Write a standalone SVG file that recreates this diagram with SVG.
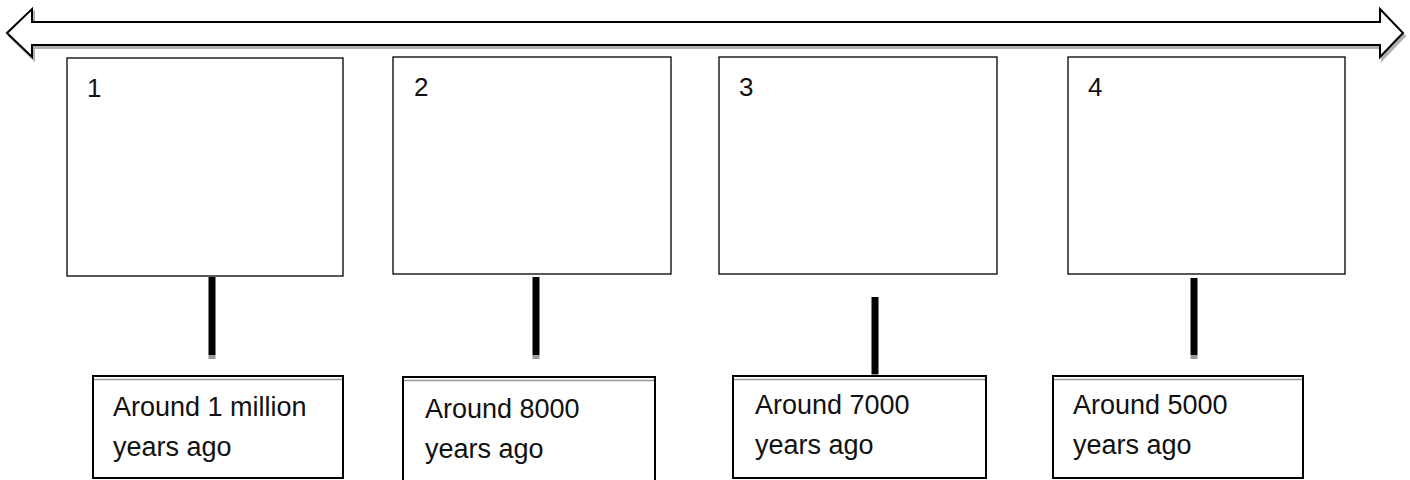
<svg xmlns="http://www.w3.org/2000/svg" width="1410" height="480" viewBox="0 0 1410 480">
<style>
.box{fill:#fff;stroke:#000;stroke-width:1.3}
.lbl{fill:#fff;stroke:#000;stroke-width:2}
.inner{stroke:#999;stroke-width:1.5}
.num,.txt{font-family:"Liberation Sans",Arial,sans-serif;fill:#111}
.num{font-size:26px}
.txt{font-size:27px}
.stem{stroke:#000;stroke-width:7}
.tail{stroke:#999;stroke-width:7}
</style>
<rect width="1410" height="480" fill="#fff"/>
<g id="timeline">
<polygon points="9,36 34,12 34,25 1382,25 1382,12 1405,36 1382,60 1382,48 34,48 34,60" fill="#b0b0b0" stroke="#b0b0b0" stroke-width="2"/>
<polygon points="7,33 32,9 32,22 1380,22 1380,9 1403,33 1380,57 1380,45 32,45 32,57" fill="#fff" stroke="#000" stroke-width="2"/>
</g>
<g id="node1">
<rect class="box" x="67" y="58" width="276" height="218"/>
<text class="num" x="87" y="97">1</text>
</g>
<g id="node2">
<rect class="box" x="393" y="57" width="278" height="217"/>
<text class="num" x="414" y="96">2</text>
</g>
<g id="node3">
<rect class="box" x="719" y="57" width="278" height="217"/>
<text class="num" x="739" y="96">3</text>
</g>
<g id="node4">
<rect class="box" x="1068" y="57" width="277" height="217"/>
<text class="num" x="1088" y="96">4</text>
</g>
<g id="connectors">
<line class="stem" x1="212" y1="277" x2="212" y2="355"/>
<line class="tail" x1="212" y1="355" x2="212" y2="359"/>
<line class="stem" x1="536" y1="277" x2="536" y2="355"/>
<line class="tail" x1="536" y1="355" x2="536" y2="359"/>
<line class="stem" x1="875" y1="297" x2="875" y2="374"/>
<line class="tail" x1="875" y1="374" x2="875" y2="378"/>
<line class="stem" x1="1194" y1="278" x2="1194" y2="355"/>
<line class="tail" x1="1194" y1="355" x2="1194" y2="359"/>
</g>
<g id="label1">
<rect class="lbl" x="93" y="376" width="250" height="102"/>
<line class="inner" x1="94" y1="379.5" x2="342" y2="379.5"/>
<text class="txt" x="113" y="416">Around 1 million</text>
<text class="txt" x="113" y="456">years ago</text>
</g>
<g id="label2">
<rect class="lbl" x="403" y="377" width="252" height="110"/>
<line class="inner" x1="404" y1="380.5" x2="654" y2="380.5"/>
<text class="txt" x="425" y="418">Around 8000</text>
<text class="txt" x="425" y="458">years ago</text>
</g>
<g id="label3">
<rect class="lbl" x="733" y="376" width="253" height="102"/>
<line class="inner" x1="734" y1="379.5" x2="985" y2="379.5"/>
<text class="txt" x="755" y="414">Around 7000</text>
<text class="txt" x="755" y="454">years ago</text>
</g>
<g id="label4">
<rect class="lbl" x="1053" y="376" width="250" height="102"/>
<line class="inner" x1="1054" y1="379.5" x2="1302" y2="379.5"/>
<text class="txt" x="1073" y="414">Around 5000</text>
<text class="txt" x="1073" y="454">years ago</text>
</g>
</svg>
